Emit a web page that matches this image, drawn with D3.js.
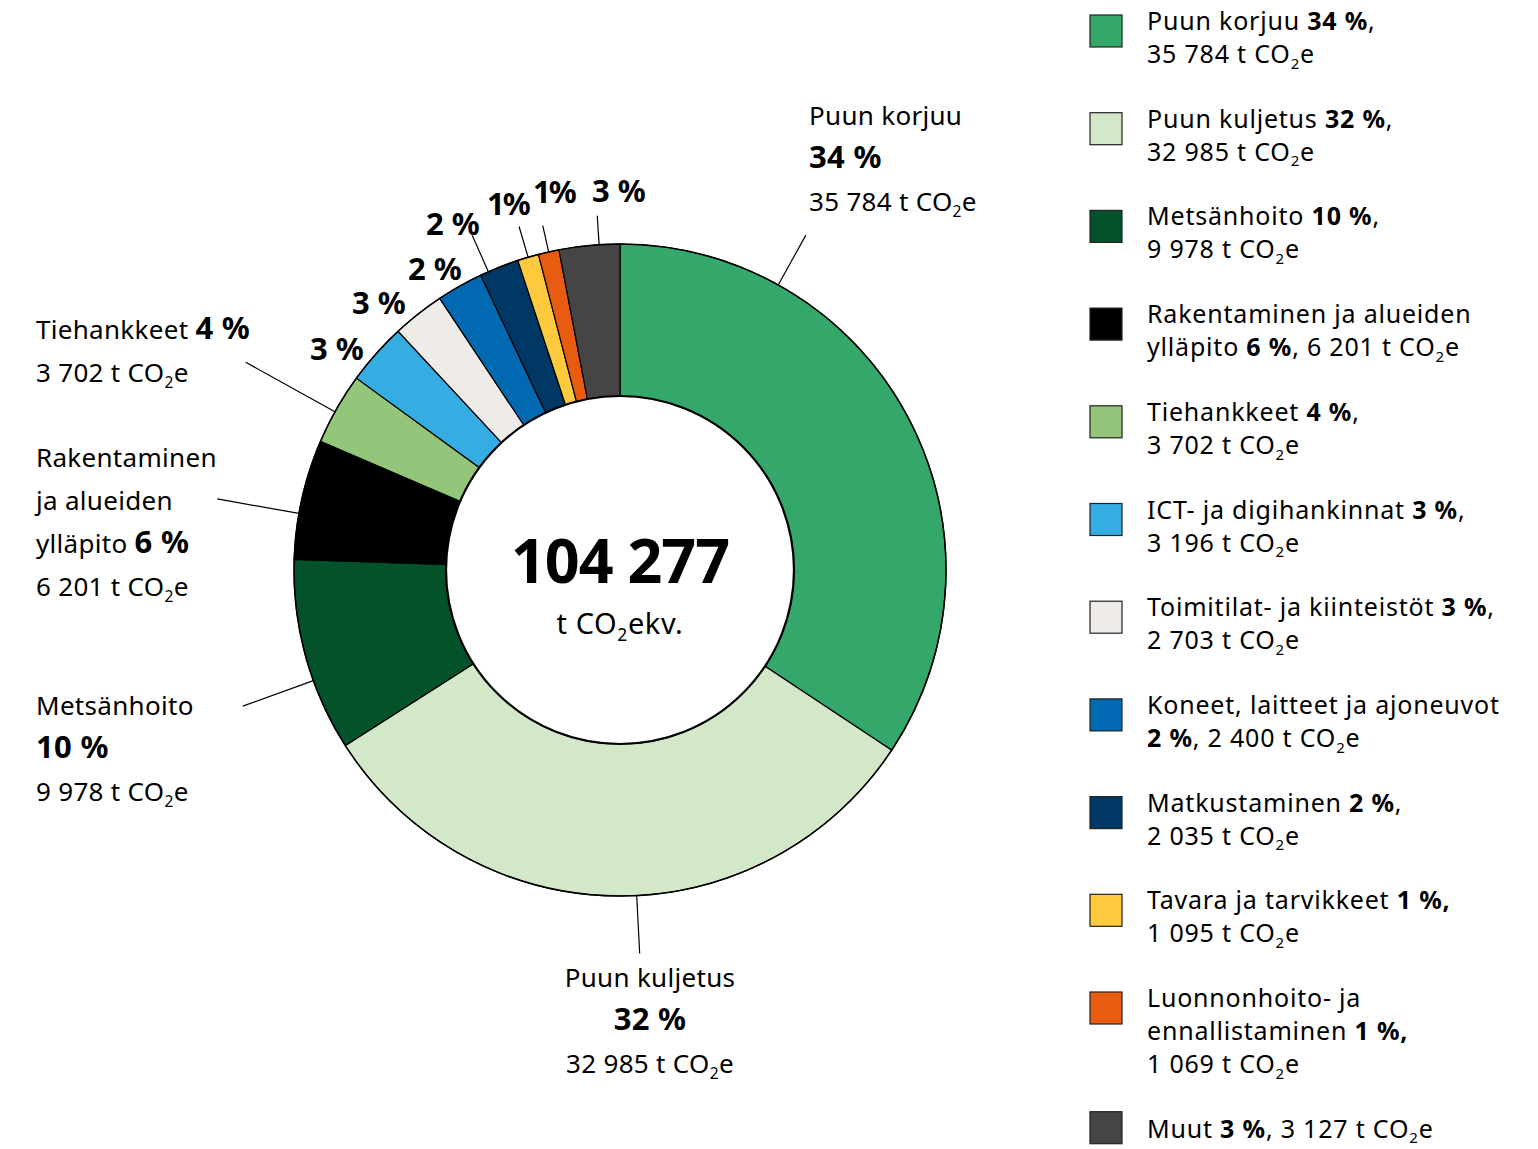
<!DOCTYPE html>
<html>
<head>
<meta charset="utf-8">
<script src="https://d3js.org/d3.v7.min.js"></script>
<style>
  body { margin: 0; background: #fff; }
  svg text { font-family: "Noto Sans", sans-serif; fill: #000; }
</style>
</head>
<body>
<script>
// ---- data ----
var categories = ["Puun korjuu", "Puun kuljetus", "Metsänhoito",
  "Rakentaminen ja alueiden ylläpito", "Tiehankkeet", "ICT- ja digihankinnat",
  "Toimitilat- ja kiinteistöt", "Koneet, laitteet ja ajoneuvot", "Matkustaminen",
  "Tavara ja tarvikkeet", "Luonnonhoito- ja ennallistaminen", "Muut"];
var values = [35784, 32985, 9978, 6201, 3702, 3196, 2703, 2400, 2035, 1095, 1069, 3127];
var percents = [34, 32, 10, 6, 4, 3, 3, 2, 2, 1, 1, 3];
var colors = ["#34a76b", "#d3e8c9", "#03522a", "#000000", "#93c67a", "#35ace2",
  "#efebe6", "#0069b1", "#003865", "#fec93d", "#e75c10", "#454545"];
var totalText = "104 277";
var unitText = "t CO2ekv.";

// legend rows, {p} = bold percent, {v} = tonnes
var legendLines = [
  ["Puun korjuu {p},", "{v}"],
  ["Puun kuljetus {p},", "{v}"],
  ["Metsänhoito {p},", "{v}"],
  ["Rakentaminen ja alueiden", "ylläpito {p}, {v}"],
  ["Tiehankkeet {p},", "{v}"],
  ["ICT- ja digihankinnat {p},", "{v}"],
  ["Toimitilat- ja kiinteistöt {p},", "{v}"],
  ["Koneet, laitteet ja ajoneuvot", "{p}, {v}"],
  ["Matkustaminen {p},", "{v}"],
  ["Tavara ja tarvikkeet {p,}", "{v}"],
  ["Luonnonhoito- ja", "ennallistaminen {p,}", "{v}"],
  ["Muut {p}, {v}"]
];

// labels around the ring
var bigLabels = [
  {i: 0, lines: ["Puun korjuu", "{P}", "{v}"], x: 809, y: 125, anchor: "start", t: 0.235, len: 57},
  {i: 1, lines: ["Puun kuljetus", "{P}", "{v}"], x: 650, y: 987, anchor: "middle", t: 0.47, len: 58},
  {i: 2, lines: ["Metsänhoito", "{P}", "{v}"], x: 36, y: 715, anchor: "start", t: 0.37, len: 75},
  {i: 3, lines: ["Rakentaminen", "ja alueiden", "ylläpito {P}", "{v}"], x: 36, y: 467, anchor: "start", t: 0.38, len: 83},
  {i: 4, lines: ["Tiehankkeet {P}", "{v}"], x: 36, y: 339, anchor: "start", t: 0.45, len: 102}
];
var smallLabels = [
  {i: 5, x: 310, y: 360},
  {i: 6, x: 352, y: 314},
  {i: 7, x: 408, y: 280},
  {i: 8, x: 426, y: 235, t: 0.21, len: 40},
  {i: 9, x: 487, y: 215, t: 0.5, len: 32},
  {i: 10, x: 533, y: 203, t: 0.5, len: 27},
  {i: 11, x: 592, y: 202, t: 0.66, len: 29}
];

var width = 1538, height = 1149;
var cx = 620, cy = 570;
var outerR = 326, innerR = 174;

var fi = d3.formatLocale({decimal: ",", thousands: " ", grouping: [3], currency: ["", " €"]});
var fmt = fi.format(",d");

function pctText(p, compact) {
  return compact && p < 2 ? p + "%" : p + " %";
}

var svg = d3.select("body").append("svg")
  .attr("width", width)
  .attr("height", height);

// rich text: **bold** and CO2 subscript
function rich(textSel, str, boldSize) {
  var parts = str.split(/(\*\*[^*]+\*\*|CO2)/).filter(function(s) { return s.length; });
  var lift = false;
  parts.forEach(function(s) {
    if (s.indexOf("**") === 0) {
      var ts = textSel.append("tspan").attr("font-weight", 700).text(s.slice(2, -2));
      if (boldSize) ts.attr("font-size", boldSize);
      if (lift) { ts.attr("dy", -lift); lift = false; }
    } else if (s === "CO2") {
      var t0 = textSel.append("tspan").text("CO");
      if (lift) { t0.attr("dy", -lift); lift = false; }
      var sz = parseFloat(textSel.attr("font-size"));
      textSel.append("tspan").attr("font-size", sz * 0.6).attr("dy", sz * 0.23).text("2");
      lift = sz * 0.23;
    } else {
      var t1 = textSel.append("tspan").text(s);
      if (lift) { t1.attr("dy", -lift); lift = false; }
    }
  });
}

function expand(line, i) {
  return line
    .replace("{P}", "**" + pctText(percents[i]) + "**")
    .replace("{p,}", "**" + pctText(percents[i]) + ",**")
    .replace("{p}", "**" + pctText(percents[i]) + "**")
    .replace("{v}", fmt(values[i]) + " t CO2e");
}

// ---- donut ----
var pie = d3.pie().sort(null).value(function(d) { return d; });
var arcs = pie(values);
var arc = d3.arc().innerRadius(innerR).outerRadius(outerR);

var g = svg.append("g").attr("transform", "translate(" + cx + "," + cy + ")");

g.selectAll("path.slice")
  .data(arcs)
  .enter()
  .append("path")
  .attr("class", "slice")
  .attr("d", arc)
  .attr("fill", function(d, i) { return colors[i]; })
  .attr("stroke", "#000")
  .attr("stroke-width", 1.2);

g.append("circle").attr("r", outerR).attr("fill", "none").attr("stroke", "#000").attr("stroke-width", 1.5);
g.append("circle").attr("r", innerR).attr("fill", "#fff").attr("stroke", "#000").attr("stroke-width", 2.2);

// center total
g.append("text")
  .attr("text-anchor", "middle")
  .attr("y", 13)
  .attr("font-size", 61)
  .attr("font-weight", 700)
  .attr("letter-spacing", -1)
  .text(totalText);
var unit = g.append("text")
  .attr("text-anchor", "middle")
  .attr("y", 64)
  .attr("font-size", 29)
  .attr("letter-spacing", 0.6);
rich(unit, unitText);

function polar(a, r) { return [Math.sin(a) * r, -Math.cos(a) * r]; }

function leader(d, t, len) {
  var a = d.startAngle + t * (d.endAngle - d.startAngle);
  var p1 = polar(a, outerR), p2 = polar(a, outerR + len);
  g.append("line")
    .attr("x1", p1[0]).attr("y1", p1[1])
    .attr("x2", p2[0]).attr("y2", p2[1])
    .attr("stroke", "#000")
    .attr("stroke-width", 1.2);
}

// big labels
bigLabels.forEach(function(L) {
  leader(arcs[L.i], L.t, L.len);
  L.lines.forEach(function(line, k) {
    var txt = svg.append("text")
      .attr("x", L.x)
      .attr("y", L.y + k * 43)
      .attr("text-anchor", L.anchor)
      .attr("font-size", 26)
      .attr("letter-spacing", 0.3);
    rich(txt, expand(line, L.i), 31);
  });
});

// small percent labels
smallLabels.forEach(function(L) {
  if (L.t !== undefined) leader(arcs[L.i], L.t, L.len);
  svg.append("text")
    .attr("x", L.x)
    .attr("y", L.y)
    .attr("font-size", 31)
    .attr("font-weight", 700)
    .attr("letter-spacing", percents[L.i] < 2 ? -2 : 0)
    .text(pctText(percents[L.i], true));
});

// ---- legend ----
var legend = svg.append("g").attr("id", "legend");
var base = 30;
legendLines.forEach(function(lines, i) {
  legend.append("rect")
    .attr("x", 1090)
    .attr("y", lines.length > 1 ? base - 15 : base - 26)
    .attr("width", 32)
    .attr("height", 32)
    .attr("fill", colors[i])
    .attr("stroke", "#222")
    .attr("stroke-width", 1.2);
  lines.forEach(function(line, k) {
    var txt = legend.append("text")
      .attr("x", 1147)
      .attr("y", base + k * 33)
      .attr("font-size", 25)
      .attr("letter-spacing", 0.8);
    rich(txt, expand(line, i));
  });
  base += lines.length * 33 + 31.7;
});
</script>
</body>
</html>
